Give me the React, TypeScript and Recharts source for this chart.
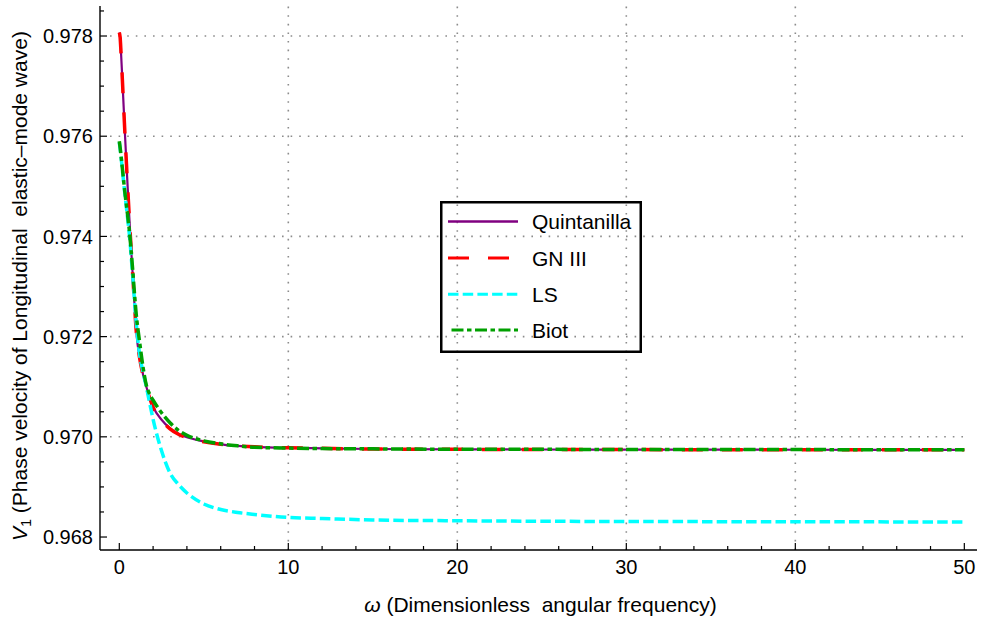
import React from 'react';
import { LineChart, Line, XAxis, YAxis, ReferenceLine, Legend, Label } from 'recharts';

// ---------- data ----------
const omega = [0, 0.05, 0.1, 0.2, 0.3, 0.4, 0.5, 0.6, 0.7, 0.8, 0.9, 1.0, 1.2, 1.4, 1.6, 1.8, 2.0, 2.5, 3.0, 3.5, 4.0, 5.0, 6.0, 7.0, 8.0, 10, 12, 15, 20, 25, 30, 40, 50];

const quintanilla = [0.97807, 0.97797, 0.97768, 0.977, 0.97628, 0.9756, 0.97495, 0.97433, 0.97375, 0.9732, 0.97264, 0.97212, 0.97158, 0.97125, 0.971, 0.97078, 0.9706, 0.97034, 0.97017, 0.97006, 0.96999, 0.96991, 0.96985, 0.96982, 0.9698, 0.96978, 0.96977, 0.969757, 0.96975, 0.969747, 0.969745, 0.969742, 0.96974];

const gn3 = [0.97807, 0.97797, 0.97768, 0.977, 0.97628, 0.9756, 0.97495, 0.97433, 0.97375, 0.9732, 0.97264, 0.97212, 0.97158, 0.97124, 0.97099, 0.97077, 0.97059, 0.97033, 0.97016, 0.97005, 0.96998, 0.9699, 0.96985, 0.96982, 0.9698, 0.96978, 0.96977, 0.969757, 0.96975, 0.969747, 0.969745, 0.969742, 0.96974];

const ls = [0.97588, 0.97575, 0.9756, 0.97527, 0.97494, 0.97464, 0.97434, 0.97402, 0.97362, 0.97318, 0.97272, 0.97228, 0.97165, 0.9713, 0.971, 0.97067, 0.97035, 0.96972, 0.96928, 0.96905, 0.96888, 0.96866, 0.96855, 0.96849, 0.96845, 0.96839, 0.96837, 0.96834, 0.968325, 0.968315, 0.96831, 0.968305, 0.9683];

const biot = [0.9759, 0.97577, 0.97562, 0.9753, 0.97497, 0.97468, 0.9744, 0.9741, 0.97372, 0.9733, 0.97285, 0.97245, 0.9719, 0.9714, 0.97103, 0.97085, 0.97073, 0.97048, 0.97028, 0.97013, 0.97003, 0.96992, 0.96986, 0.96982, 0.96979, 0.969775, 0.969765, 0.96976, 0.969752, 0.96975, 0.969748, 0.969745, 0.969742];

const xTicks = [0, 2, 4, 6, 8, 10, 12, 14, 16, 18, 20, 22, 24, 26, 28, 30, 32, 34, 36, 38, 40, 42, 44, 46, 48, 50];
const xGrid = [10, 20, 30, 40];
const yTicks = [0.968, 0.9685, 0.969, 0.9695, 0.97, 0.9705, 0.971, 0.9715, 0.972, 0.9725, 0.973, 0.9735, 0.974, 0.9745, 0.975, 0.9755, 0.976, 0.9765, 0.977, 0.9775, 0.978, 0.9785];
const yGrid = [0.97, 0.972, 0.974, 0.976, 0.978];

const X_DOMAIN: [number, number] = [-1.142, 50.75];
const Y_DOMAIN: [number, number] = [0.967741, 0.978599];
const GRID_X_RANGE: [number, number] = [-0.55, 50.2];

const series = [
  { key: 'q', name: 'Quintanilla', color: '#800080', width: 2.2, dash: undefined as string | undefined, legendOffset: 0 },
  { key: 'gn', name: 'GN III', color: '#ff0000', width: 3.5, dash: '21 19', legendOffset: 0 },
  { key: 'ls', name: 'LS', color: '#00ffff', width: 3.5, dash: '10.5 4.2', legendOffset: 0 },
  { key: 'biot', name: 'Biot', color: '#00a000', width: 3.5, dash: '12 3.5 4.5 3.5', legendOffset: 20 },
];

const data = omega.map((w, i) => ({ w, q: quintanilla[i], gn: gn3[i], ls: ls[i], biot: biot[i] }));

const FONT = '"Liberation Sans", Arial, Helvetica, sans-serif';
const TICK_FONT = 20;
const MAJOR = 7;
const MINOR = 4;
const BOTTOM_MARGIN = 9;
const LEFT_MARGIN = 7;

const isMajorX = (v: number) => Math.abs(v % 10) < 1e-9;
const isMajorY = (v: number) => Math.round(v * 10000) % 20 === 0;

const BottomTick = (p: any) => {
  const v = p.payload.value;
  const axisY = p.y - BOTTOM_MARGIN;
  const major = isMajorX(v);
  return (
    <g>
      <line x1={p.x} x2={p.x} y1={axisY} y2={axisY - (major ? MAJOR : MINOR)} stroke="#000" strokeWidth={1.2} />
      {major && (
        <text x={p.x} y={p.y} dy="0.75em" textAnchor="middle" fontFamily={FONT} fontSize={TICK_FONT} fill="#000">
          {v}
        </text>
      )}
    </g>
  );
};

const TopTick = (p: any) => {
  const major = isMajorX(p.payload.value);
  return <line x1={p.x} x2={p.x} y1={p.y} y2={p.y + (major ? MAJOR : MINOR)} stroke="#000" strokeWidth={1.2} />;
};

const LeftTick = (p: any) => {
  const v = p.payload.value;
  const axisX = p.x + LEFT_MARGIN;
  const major = isMajorY(v);
  return (
    <g>
      <line x1={axisX} x2={axisX + (major ? MAJOR : MINOR)} y1={p.y} y2={p.y} stroke="#000" strokeWidth={1.2} />
      {major && (
        <text x={p.x} y={p.y} dy="0.36em" textAnchor="end" fontFamily={FONT} fontSize={TICK_FONT} fill="#000">
          {v.toFixed(3)}
        </text>
      )}
    </g>
  );
};

const RightTick = (p: any) => {
  const major = isMajorY(p.payload.value);
  return <line x1={p.x} x2={p.x - (major ? MAJOR : MINOR)} y1={p.y} y2={p.y} stroke="#000" strokeWidth={1.2} />;
};

const XTitle = (props: any) => {
  const vb = props.viewBox || { x: 100, y: 550, width: 877, height: 71 };
  return (
    <text x={vb.x + vb.width / 2 + 2} y={vb.y + 54} dy="0.36em" textAnchor="middle" fontFamily={FONT} fontSize={21} fill="#000" style={{ whiteSpace: 'pre' }}>
      <tspan fontStyle="italic">ω</tspan>
      <tspan> (Dimensionless  angular frequency)</tspan>
    </text>
  );
};

const YTitle = (props: any) => {
  const vb = props.viewBox || { x: 0, y: 6, width: 100, height: 544 };
  const cx = vb.x + 19;
  const cy = vb.y + vb.height / 2 + 8;
  return (
    <text x={cx} y={cy} dy="0.36em" textAnchor="middle" fontFamily={FONT} fontSize={21} fill="#000" transform={`rotate(-90 ${cx} ${cy})`} style={{ whiteSpace: 'pre' }}>
      <tspan fontStyle="italic">V</tspan>
      <tspan fontSize={14} dy={4}>1</tspan>
      <tspan dy={-4}> (Phase velocity of Longitudinal  elastic–mode wave)</tspan>
    </text>
  );
};

const LegendBox = () => {
  const rowY = [20.5, 57, 93.3, 129];
  return (
    <svg width={202} height={152} style={{ display: 'block' }}>
      <rect x={1.25} y={1.25} width={199.5} height={149.5} fill="none" stroke="#000" strokeWidth={2.5} />
      {series.map((s, i) => (
        <g key={s.key}>
          <line x1={8} x2={78} y1={rowY[i]} y2={rowY[i]} stroke={s.color} strokeWidth={s.width > 3 ? 3 : 2.4} strokeDasharray={s.dash} strokeDashoffset={s.legendOffset} />
          <text x={92} y={rowY[i]} dy="0.36em" fontFamily={FONT} fontSize={21} fill="#000">
            {s.name}
          </text>
        </g>
      ))}
    </svg>
  );
};

export default function App() {
  return (
    <div style={{ position: 'absolute', left: 0, top: 0, width: 981, height: 621, background: '#fff' }}>
      <LineChart width={981} height={621} data={data} margin={{ top: 6, right: 4, bottom: 0, left: 0 }}>
        <XAxis
          xAxisId={0}
          type="number"
          dataKey="w"
          domain={X_DOMAIN}
          ticks={xTicks}
          interval={0}
          allowDataOverflow
          height={71}
          tickLine={false}
          tickSize={0}
          tickMargin={BOTTOM_MARGIN}
          tick={(p: any) => <BottomTick {...p} />}
          axisLine={{ stroke: '#000', strokeWidth: 1.4 }}
        >
          <Label content={(p: any) => <XTitle {...p} />} />
        </XAxis>
        <XAxis
          xAxisId="top"
          orientation="top"
          type="number"
          dataKey="w"
          domain={X_DOMAIN}
          ticks={xTicks}
          interval={0}
          allowDataOverflow
          height={0}
          tickLine={false}
          tickSize={0}
          tickMargin={0}
          tick={(p: any) => <TopTick {...p} />}
          axisLine={{ stroke: '#000', strokeWidth: 1.4 }}
        />
        <YAxis
          yAxisId={0}
          type="number"
          domain={Y_DOMAIN}
          ticks={yTicks}
          interval={0}
          allowDataOverflow
          width={100}
          tickLine={false}
          tickSize={0}
          tickMargin={LEFT_MARGIN}
          tick={(p: any) => <LeftTick {...p} />}
          axisLine={{ stroke: '#000', strokeWidth: 1.4 }}
        >
          <Label content={(p: any) => <YTitle {...p} />} />
        </YAxis>
        <YAxis
          yAxisId="right"
          orientation="right"
          type="number"
          domain={Y_DOMAIN}
          ticks={yTicks}
          interval={0}
          allowDataOverflow
          width={0}
          tickLine={false}
          tickSize={0}
          tickMargin={0}
          tick={(p: any) => <RightTick {...p} />}
          axisLine={{ stroke: '#000', strokeWidth: 1.4 }}
        />
        {xGrid.map((v) => (
          <ReferenceLine key={`gx${v}`} x={v} stroke="#8c8c8c" strokeWidth={1.6} strokeDasharray="1.6 7" />
        ))}
        {yGrid.map((v) => (
          <ReferenceLine
            key={`gy${v}`}
            segment={[{ x: GRID_X_RANGE[0], y: v }, { x: GRID_X_RANGE[1], y: v }]}
            stroke="#8c8c8c"
            strokeWidth={1.6}
            strokeDasharray="1.6 7"
          />
        ))}
        {series.map((s) => (
          <Line
            key={s.key}
            type="monotone"
            dataKey={s.key}
            name={s.name}
            stroke={s.color}
            strokeWidth={s.width}
            strokeDasharray={s.dash}
            dot={false}
            activeDot={false}
            isAnimationActive={false}
          />
        ))}
        <Legend
          layout="vertical"
          align="center"
          verticalAlign="middle"
          content={() => <LegendBox />}
          wrapperStyle={{ left: 440, top: 201, width: 202, height: 152 }}
        />
      </LineChart>
    </div>
  );
}
